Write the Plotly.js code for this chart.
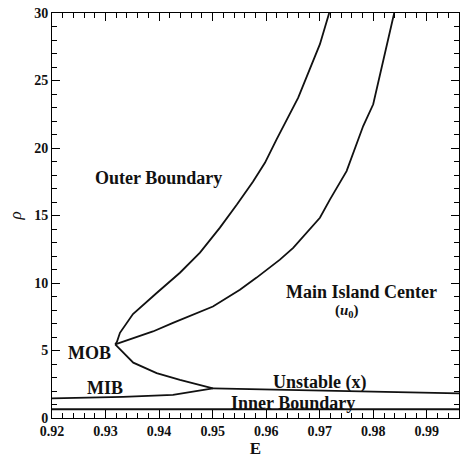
<!DOCTYPE html>
<html>
<head>
<meta charset="utf-8">
<script src="https://cdn.plot.ly/plotly-3.0.1.min.js"></script>
<style>html,body{margin:0;padding:0;background:#fff;}#chart{width:461px;height:462px;}</style>
</head>
<body>
<div id="chart"></div>
<script>
// Outer boundary: from cusp up to top
var outerE   = [0.9318, 0.93213, 0.93269, 0.93512, 0.9396, 0.94389, 0.94763, 0.95136, 0.95453, 0.95752, 0.95976, 0.96194, 0.96598, 0.97003, 0.97176];
var outerRho = [5.45, 5.64, 6.31, 7.7, 9.28, 10.76, 12.25, 14.1, 15.81, 17.5, 18.9, 20.64, 23.73, 27.69, 30];
// Main island center: from cusp up to top
var centerE   = [0.9318, 0.93885, 0.94259, 0.94701, 0.95005, 0.95509, 0.95821, 0.96256, 0.96504, 0.97003, 0.97189, 0.97501, 0.97624, 0.97811, 0.97998, 0.98061, 0.9839];
var centerRho = [5.45, 6.41, 7.05, 7.77, 8.26, 9.5, 10.4, 11.73, 12.6, 14.83, 16.18, 18.29, 19.65, 21.63, 23.24, 24.35, 30];
// MOB lower branch: cusp down to junction
var mobE   = [0.9318, 0.93518, 0.93954, 0.94389, 0.95005];
var mobRho = [5.45, 4.1, 3.32, 2.82, 2.2];
// Unstable (x)
var unstE   = [0.95005, 0.96, 0.97, 0.98, 0.99, 0.996];
var unstRho = [2.2, 2.12, 2.04, 1.96, 1.88, 1.83];
// MIB
var mibE   = [0.92, 0.93325, 0.94259, 0.94888, 0.95005];
var mibRho = [1.46, 1.56, 1.71, 2.08, 2.2];
// Inner boundary
var innerE   = [0.92, 0.996];
var innerRho = [0.65, 0.65];

var xTicks = [0.92, 0.93, 0.94, 0.95, 0.96, 0.97, 0.98, 0.99];
var xTickText = ['0.92', '0.93', '0.94', '0.95', '0.96', '0.97', '0.98', '0.99'];
var yTicks = [0, 5, 10, 15, 20, 25, 30];
var yTickText = ['0', '5', '10', '15', '20', '25', '30'];

var labelText = ['Outer Boundary', 'Main Island Center', '(<i>u</i><sub>0</sub>)', 'MOB', 'MIB', 'Unstable (x)', 'Inner Boundary'];
var labelE    = [0.9398, 0.97781, 0.97501, 0.92709, 0.9299, 0.97003, 0.965];
var labelRho  = [17.8, 9.3, 7.95, 4.85, 2.25, 2.6, 1.1];
var labelSize = [18, 18, 15, 18, 18, 18, 18];

var lineStyle = {color: '#111', width: 1.8};
function tr(x, y) { return {x: x, y: y, type: 'scatter', mode: 'lines', line: lineStyle, hoverinfo: 'skip', showlegend: false}; }
var data = [tr(outerE, outerRho), tr(centerE, centerRho), tr(mobE, mobRho), tr(unstE, unstRho), tr(mibE, mibRho), tr(innerE, innerRho)];

var font = {family: '"Liberation Serif", "Times New Roman", serif', color: '#111'};
var annotations = labelText.map(function (t, i) {
  return {x: labelE[i], y: labelRho[i], xref: 'x', yref: 'y', text: t, showarrow: false,
    font: {family: font.family, color: '#111', size: labelSize[i], weight: 'bold'}};
});

var axisCommon = {
  showline: true, linecolor: '#000', linewidth: 1, mirror: 'allticks',
  ticks: 'inside', ticklen: 8, tickwidth: 1, tickcolor: '#000',
  showgrid: false, zeroline: false, tickmode: 'array',
  tickfont: {family: font.family, size: 14, color: '#111', weight: 'bold'}
};

var layout = {
  width: 461, height: 462,
  margin: {l: 52, r: 2, t: 13, b: 44},
  paper_bgcolor: '#fff', plot_bgcolor: '#fff',
  showlegend: false,
  xaxis: Object.assign({}, axisCommon, {
    range: [0.92, 0.996], tickvals: xTicks, ticktext: xTickText,
    minor: {dtick: 0.002, tick0: 0.92, ticks: 'inside', ticklen: 5, tickcolor: '#000', tickwidth: 1},
    title: {text: 'E', font: {family: font.family, size: 17, color: '#111', weight: 'bold'}, standoff: 2}
  }),
  yaxis: Object.assign({}, axisCommon, {
    range: [0, 30], tickvals: yTicks, ticktext: yTickText,
    minor: {dtick: 1, tick0: 0, ticks: 'inside', ticklen: 5, tickcolor: '#000', tickwidth: 1},
    title: {text: '<i>ρ</i>', font: {family: font.family, size: 17, color: '#111'}, standoff: 8}
  }),
  annotations: annotations
};

Plotly.newPlot('chart', data, layout, {displayModeBar: false, staticPlot: true});
</script>
</body>
</html>
